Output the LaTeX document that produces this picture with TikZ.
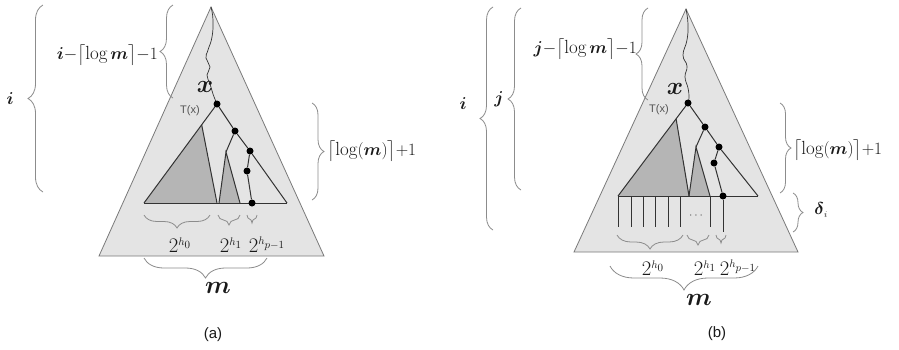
\documentclass[tikz,border=0pt]{standalone}
\usepackage{amsmath}
\usepackage{fontspec}
\newfontfamily\arialfont{Liberation Sans}
\usetikzlibrary{decorations.pathreplacing,calc}
\definecolor{outerfill}{HTML}{E4E4E4}
\definecolor{outerline}{HTML}{7A7A7A}
\definecolor{treeline}{HTML}{333333}
\definecolor{shadefill}{HTML}{B5B5B5}
\definecolor{bracecol}{HTML}{8C8C8C}
\definecolor{labelcol}{HTML}{1A1A1A}
\definecolor{tlabel}{HTML}{555555}
\newcommand\fsz[1]{\fontsize{#1}{#1}\selectfont}
\tikzset{
  outer/.style={fill=outerfill, draw=outerline, line width=0.8pt},
  tree/.style={draw=treeline, line width=1pt},
  wavy/.style={draw=treeline, line width=0.7pt},
  dotnode/.style={circle, fill=black, inner sep=0pt, minimum size=7pt},
  brc/.style={decorate, decoration={brace, amplitude=#1}, draw=bracecol, line width=0.8pt},
  lbl/.style={inner sep=0pt, text=labelcol},
  sublbl/.style={lbl, font=\fsz{21}},
  caplbl/.style={lbl, font=\arialfont\fsz{15}},
  tlbl/.style={inner sep=0pt, text=tlabel, font=\arialfont\fsz{11}},
}
\begin{document}
\begin{tikzpicture}[x=1pt,y=-1pt]
\useasboundingbox[fill=white] (0,0) rectangle (899,349);

% ================= panel (a) =================
\coordinate (aA) at (211,7);
\coordinate (aBL) at (99,256);
\coordinate (aBR) at (324,256);
\filldraw[outer] (aA) -- (aBL) -- (aBR) -- cycle;
\coordinate (ax) at (217,104);
\coordinate (aTL) at (144,203);
\coordinate (aTR) at (287,203);
\coordinate (aS1) at ($(ax)!0.21!(aTL)$);
\coordinate (aS1R) at (217,203);
\coordinate (aS2) at (226,152);
\coordinate (aS2L) at (219,203);
\coordinate (aS2R) at (240,203);
\fill[shadefill] (aS1) -- (aTL) -- (aS1R) -- cycle;
\fill[shadefill] (aS2) -- (aS2L) -- (aS2R) -- cycle;
\draw[tree] (aS1) -- (aS1R);
\draw[tree] (aS2L) -- (aS2) -- (aS2R);
\draw[tree] (aTL) -- (aTR);
\draw[tree] (ax) -- (aTL);
\draw[wavy] plot[smooth, tension=0.8] coordinates {(aA) (213,20) (212,37) (208,50) (206,58) (210,67) (207,75) (210,84) (213,94) (ax)};
\node[dotnode] (a0) at (ax) {};
\node[dotnode] (a1) at (235,131) {};
\node[dotnode] (a2) at (250,151) {};
\node[dotnode] (a3) at (247,171) {};
\node[dotnode] (a4) at (252,203) {};
\draw[tree] (a0) -- (a1) -- (a2) -- (aTR);
\draw[tree] (a1) -- (aS2);
\draw[tree] (a2) -- (a3) -- (a4);

% braces (a)
\coordinate (aiB) at (43,192); \coordinate (aiT) at (43,5);
\draw[brc=15] (aiB) -- (aiT);
\node[lbl, font=\fsz{19}] (ai) at (10,99) {$\boldsymbol{i}$};
\coordinate (abB) at (173,98); \coordinate (abT) at (173,5);
\draw[brc=13] (abB) -- (abT);
\node[lbl, anchor=east, font=\fsz{19}] (atop) at (158,55) {$\boldsymbol{i}{-}\bigl\lceil\log\boldsymbol{m}\bigr\rceil{-}1$};
\coordinate (arT) at (312,103); \coordinate (arB) at (312,200);
\draw[brc=12] (arT) -- (arB);
\node[lbl, anchor=west, font=\fsz{19}] (alog) at (327,151) {$\bigl\lceil\log(\boldsymbol{m})\bigr\rceil{+}1$};
\coordinate (au1R) at (210,215); \coordinate (au1L) at (144,215);
\draw[brc=13] (au1R) -- (au1L);
\coordinate (au2R) at (240,215); \coordinate (au2L) at (218,215);
\draw[brc=10] (au2R) -- (au2L);
\coordinate (au3R) at (257,215); \coordinate (au3L) at (247,215);
\draw[brc=8] (au3R) -- (au3L);
\node[sublbl] (ah0) at (180,245) {$2^{\scriptscriptstyle h_0}$};
\node[sublbl] (ah1) at (231,245) {$2^{\scriptscriptstyle h_1}$};
\node[sublbl] (ahp) at (267,245) {$2^{\scriptscriptstyle h_{p-1}}$};
\coordinate (amR) at (267,258); \coordinate (amL) at (144,258);
\draw[brc=20] (amR) -- (amL);
\node[lbl, font=\fsz{26}] (am) at (218,288) {$\boldsymbol{m}$};
\node[lbl, font=\fsz{23}] (axl) at (205,87) {$\boldsymbol{x}$};
\node[tlbl] (aT) at (190,111) {T(x)};
\node[caplbl] (acap) at (213,335) {(a)};

% ================= panel (b) =================
\coordinate (bA) at (686,9);
\coordinate (bBL) at (574,252);
\coordinate (bBR) at (798,252);
\filldraw[outer] (bA) -- (bBL) -- (bBR) -- cycle;
\coordinate (bx) at (688,103);
\coordinate (bTL) at (618,196);
\coordinate (bTR) at (758,196);
\coordinate (bS1) at ($(bx)!0.17!(bTL)$);
\coordinate (bS1R) at (689,196);
\coordinate (bS2) at (696,147);
\coordinate (bS2L) at (689,196);
\coordinate (bS2R) at (710,196);
\fill[shadefill] (bS1) -- (bTL) -- (bS1R) -- cycle;
\fill[shadefill] (bS2) -- (bS2L) -- (bS2R) -- cycle;
\draw[tree] (bS1) -- (bS1R);
\draw[tree] (bS2L) -- (bS2) -- (bS2R);
\draw[tree] (bTL) -- (bTR);
\draw[tree] (bx) -- (bTL);
\draw[wavy] plot[smooth, tension=0.8] coordinates {(bA) (688,24) (687,40) (683,55) (687,66) (685,77) (688,88) (689,97) (bx)};
\node[dotnode] (b0) at (bx) {};
\node[dotnode] (b1) at (705,127) {};
\node[dotnode] (b2) at (719,147) {};
\node[dotnode] (b3) at (714,163) {};
\node[dotnode] (b4) at (723,196) {};
\draw[tree] (b0) -- (b1) -- (b2) -- (bTR);
\draw[tree] (b1) -- (bS2);
\draw[tree] (b2) -- (b3) -- (b4);
% vertical leaves
\foreach \xx/\nn in {618/1,631/2,643/3,655/4,668/5,680/6,710/7}{
  \coordinate (bv\nn t) at (\xx,196);
  \coordinate (bv\nn b) at (\xx,227);
  \draw[tree] (bv\nn t) -- (bv\nn b);
}
\coordinate (b4b) at (723,232);
\draw[tree] (b4) -- (b4b);
\node[inner sep=0pt, text=tlabel, font=\fsz{12}] (bdots) at (697,216) {$\cdots$};

% braces (b)
\coordinate (biB) at (493,230); \coordinate (biT) at (493,7);
\draw[brc=13] (biB) -- (biT);
\node[lbl, font=\fsz{19}] (bi) at (463,104) {$\boldsymbol{i}$};
\coordinate (bjB) at (521,190); \coordinate (bjT) at (521,8);
\draw[brc=13] (bjB) -- (bjT);
\node[lbl, font=\fsz{19}] (bj) at (499,99) {$\boldsymbol{j}$};
\coordinate (bbB) at (648,100); \coordinate (bbT) at (648,8);
\draw[brc=12] (bbB) -- (bbT);
\node[lbl, anchor=east, font=\fsz{19}] (btop) at (637,49) {$\boldsymbol{j}{-}\bigl\lceil\log\boldsymbol{m}\bigr\rceil{-}1$};
\coordinate (brT) at (780,103); \coordinate (brB) at (780,193);
\draw[brc=11] (brT) -- (brB);
\node[lbl, anchor=west, font=\fsz{19}] (blog) at (793,150) {$\bigl\lceil\log(\boldsymbol{m})\bigr\rceil{+}1$};
\coordinate (bdT) at (793,193); \coordinate (bdB) at (793,232);
\draw[brc=10] (bdT) -- (bdB);
\node[lbl, font=\fsz{19}] (bdel) at (821,210) {$\boldsymbol{\delta}_{\scriptscriptstyle i}$};
\coordinate (bu1R) at (683,235); \coordinate (bu1L) at (617,235);
\draw[brc=14] (bu1R) -- (bu1L);
\coordinate (bu2R) at (709,235); \coordinate (bu2L) at (687,235);
\draw[brc=10] (bu2R) -- (bu2L);
\coordinate (bu3R) at (726,235); \coordinate (bu3L) at (716,235);
\draw[brc=8] (bu3R) -- (bu3L);
\node[sublbl] (bh0) at (653,268) {$2^{\scriptscriptstyle h_0}$};
\node[sublbl] (bh1) at (705,268) {$2^{\scriptscriptstyle h_1}$};
\node[sublbl] (bhp) at (738,268) {$2^{\scriptscriptstyle h_{p-1}}$};
\coordinate (bmR) at (758,266); \coordinate (bmL) at (610,266);
\draw[brc=24] (bmR) -- (bmL);
\node[lbl, font=\fsz{26}] (bm) at (699,300) {$\boldsymbol{m}$};
\node[lbl, font=\fsz{23}] (bxl) at (675,89) {$\boldsymbol{x}$};
\node[tlbl] (bT) at (659,110) {T(x)};
\node[caplbl] (bcap) at (717,334) {(b)};
\end{tikzpicture}
\end{document}
